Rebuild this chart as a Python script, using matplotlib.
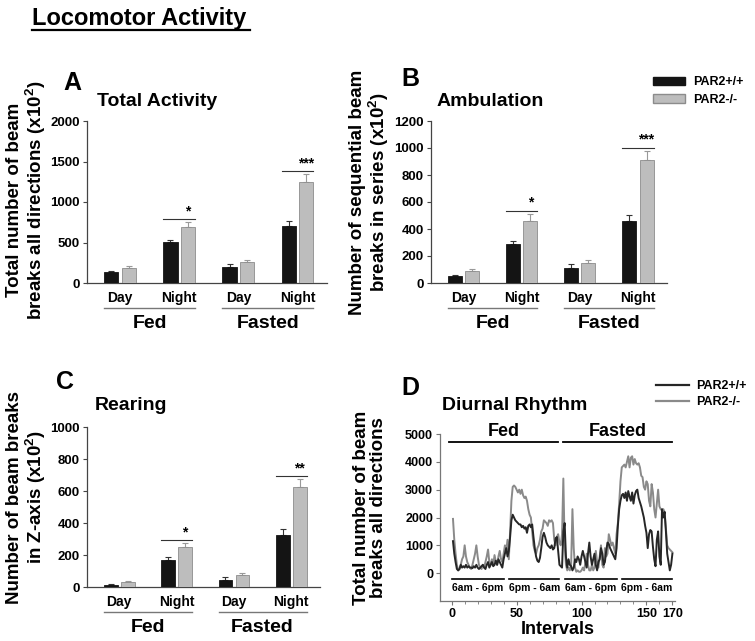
import numpy as np
import matplotlib.pyplot as plt
from matplotlib.lines import Line2D
from matplotlib.patches import Patch

plt.rcParams['font.family'] = ['Liberation Sans', 'DejaVu Sans']
plt.rcParams['font.weight'] = 'bold'
plt.rcParams['axes.labelweight'] = 'bold'
plt.rcParams['mathtext.fontset'] = 'custom'
plt.rcParams['mathtext.rm'] = 'Liberation Sans:bold'
plt.rcParams['mathtext.bf'] = 'Liberation Sans:bold'

# bar data (x10^2 beam breaks), order: Fed Day, Fed Night, Fasted Day, Fasted Night
periods = ['Day', 'Night', 'Day', 'Night']
conditions = ['Fed', 'Fasted']
genotypes = ['PAR2+/+', 'PAR2-/-']

total_wt = [130, 505, 197, 698]
total_wt_err = [15, 30, 37, 70]
total_ko = [185, 686, 263, 1248]
total_ko_err = [25, 65, 25, 95]
total_sig = ['*', '***']

amb_wt = [54, 291, 108, 461]
amb_wt_err = [8, 22, 30, 44]
amb_ko = [91, 461, 150, 909]
amb_ko_err = [15, 51, 20, 69]
amb_sig = ['*', '***']

rear_wt = [15, 171, 46, 323]
rear_wt_err = [4, 19, 14, 40]
rear_ko = [29, 250, 73, 625]
rear_ko_err = [6, 25, 15, 50]
rear_sig = ['*', '**']

# diurnal rhythm, one value per interval (1..170)
diurnal_wt = [
    1150, 700, 400, 150, 100, 150, 300, 200, 250, 200,
    300, 200, 250, 200, 200, 180, 250, 200, 300, 200,
    150, 200, 250, 300, 200, 150, 300, 400, 200, 300,
    400, 250, 300, 450, 300, 500, 400, 300, 200, 500,
    700, 900, 600, 800, 1300, 1900, 2100, 2000, 1900, 1850,
    1800, 1750, 1750, 1650, 1700, 1600, 1650, 1450, 1700, 1750,
    1650, 1750, 1300, 900, 600, 450, 400, 550, 900, 1300,
    1450, 1300, 1100, 1000, 950, 900, 1000, 850, 900, 1250,
    1300, 800, 300, 250, 200, 1500, 1800, 600, 200, 500,
    300, 250, 100, 200, 500, 400, 600, 500, 300, 600,
    800, 600, 400, 200, 700, 1100, 600, 300, 500, 700,
    300, 100, 400, 500, 900, 700, 300, 400, 800, 1100,
    1050, 900, 800, 700, 600, 500, 900, 1700, 2300, 2600,
    2800, 2850, 2700, 2900, 2600, 2950, 2750, 2600, 2900, 2500,
    2800, 2950, 3000, 2700, 2550, 2400, 2200, 2000, 1700, 1450,
    900, 1400, 1550, 1500, 950, 500, 250, 1200, 1500, 600,
    300, 2300, 2000, 2200, 1500, 700, 400, 100, 300, 700,
]
diurnal_ko = [
    1950, 1200, 700, 300, 100, 150, 300, 500, 600, 1000,
    600, 400, 300, 200, 150, 300, 500, 700, 1000, 600,
    300, 200, 150, 300, 200, 400, 600, 850, 400, 300,
    500, 300, 650, 400, 300, 600, 800, 500, 400, 700,
    1000, 800, 1200, 500, 1500, 2600, 3100, 3150, 3100, 3000,
    2900, 3000, 2850, 3000, 2800, 2700, 2750, 2600, 2300, 2100,
    2000, 1500, 1000, 800, 700, 900, 1000, 1200, 1500, 1600,
    1900, 1850, 1800, 1700, 1900, 1850, 1900, 1800, 1200, 1000,
    1300, 1400, 1100, 1000, 1400, 3400, 1000, 300, 100, 200,
    100, 300, 2300, 900, 200, 50, 100, 50, 50, 100,
    200, 100, 400, 700, 300, 100, 100, 300, 100, 200,
    800, 400, 200, 600, 1000, 300, 200, 900, 600, 700,
    1400, 1200, 1000, 1100, 900, 700, 1400, 1800, 2500, 3300,
    3800, 3850, 3900, 3800, 4000, 4200, 3800, 4150, 4200, 3900,
    4100, 3950, 3900, 3950, 3800, 3500, 3450, 3100, 3000, 3300,
    3200, 2600, 2400, 3200, 2900, 2300, 2000, 2500, 3000, 2400,
    2300, 2250, 2300, 2200, 1600, 1000, 900, 850, 800, 750,
]
intervals = np.arange(1, len(diurnal_wt) + 1)
phase_spans = [(-2, 82), (86, 170)]
clock_spans = [(0, 40), (44, 83), (87, 127), (131, 170)]
clock_labels = ['6am - 6pm', '6pm - 6am', '6am - 6pm', '6pm - 6am']

BLACK = '#141414'
GREY = '#bdbdbd'
GREY_EDGE = '#8c8c8c'

W, H = 755, 641
fig = plt.figure(figsize=(W / 100, H / 100), dpi=100)


def px_axes(left, top, right, bottom):
    return fig.add_axes([left / W, 1 - bottom / H, (right - left) / W, (bottom - top) / H])


def bar_panel(ax, wt, wt_err, ko, ko_err, sig, ymax, step, hpx):
    x = np.arange(len(periods))
    off, w = 0.148, 0.24
    ax.errorbar(x - off, wt, yerr=[np.zeros(len(wt)), wt_err], fmt='none',
                ecolor='#333333', elinewidth=0.8, capsize=2.5, capthick=0.8)
    ax.errorbar(x + off, ko, yerr=[np.zeros(len(ko)), ko_err], fmt='none',
                ecolor='#999999', elinewidth=0.8, capsize=2.5, capthick=0.8)
    ax.bar(x - off, wt, w, color=BLACK, edgecolor=BLACK, lw=0.6, zorder=3)
    ax.bar(x + off, ko, w, color=GREY, edgecolor=GREY_EDGE, lw=0.6, zorder=3)
    ax.set_xlim(-0.56, 3.5)
    ax.set_ylim(0, ymax)
    ax.set_yticks(np.arange(0, ymax + 1, step))
    ax.set_xticks([])
    for s in ['top', 'right']:
        ax.spines[s].set_visible(False)
    for s in ['left', 'bottom']:
        ax.spines[s].set_color('#444444')
        ax.spines[s].set_linewidth(0.9)
    ax.tick_params(axis='y', length=3, width=0.8, color='#444444', labelsize=9.5, pad=2)

    # significance bars over the night groups
    for i, s in zip([1, 3], sig):
        top = ko[i] + ko_err[i] + 0.02 * ymax
        ax.plot([i - off - w / 2, i + off + w / 2], [top, top], color='#333333', lw=0.8)
        ax.text(i + off, top + 0.005 * ymax, s, ha='center', va='bottom', fontsize=10)

    # period / condition labels under the axis
    for i, p in enumerate(periods):
        ax.annotate(p, xy=(i, 0), xycoords=('data', 'axes fraction'),
                    xytext=(0, -15), textcoords='offset pixels',
                    ha='center', va='center', fontsize=10)
    for k, c in enumerate(conditions):
        a, b = 2 * k, 2 * k + 1
        ax.plot([a - off - w / 2, b + off + w / 2], [-25 / hpx, -25 / hpx],
                transform=ax.get_xaxis_transform(), color='#777777', lw=1.0, clip_on=False)
        ax.annotate(c, xy=((a + b) / 2, 0), xycoords=('data', 'axes fraction'),
                    xytext=(0, -40), textcoords='offset pixels',
                    ha='center', va='center', fontsize=14)


def panel_text(letter, lx, ly, title, tx, ty):
    fig.text(lx / W, 1 - ly / H, letter, fontsize=18, ha='left', va='center')
    fig.text(tx / W, 1 - ty / H, title, fontsize=14, ha='left', va='center')


def ylabel(text, cx, cy):
    fig.text(cx / W, 1 - cy / H, text, rotation=90, ha='center', va='center',
             fontsize=13.5, linespacing=1.0, multialignment='center')


# title
fig.text(32 / W, 1 - 18 / H, 'Locomotor Activity', fontsize=17, ha='left', va='center')
fig.add_artist(Line2D([32 / W, 250 / W], [1 - 30 / H, 1 - 30 / H], color='black', lw=1.6))

# A
axA = px_axes(87, 121, 327, 283)
bar_panel(axA, total_wt, total_wt_err, total_ko, total_ko_err, total_sig, 2000, 500, 162)
panel_text('A', 63, 83, 'Total Activity', 97, 101)
ylabel('Total number of beam\nbreaks all directions (x10$^2$)', 27, 200)

# B
axB = px_axes(431, 121, 667, 283)
bar_panel(axB, amb_wt, amb_wt_err, amb_ko, amb_ko_err, amb_sig, 1200, 200, 162)
panel_text('B', 401, 79, 'Ambulation', 437, 101)
ylabel('Number of sequential beam\nbreaks in series (x10$^2$)', 370, 192)
fig.legend([Patch(facecolor=BLACK, edgecolor=BLACK), Patch(facecolor=GREY, edgecolor=GREY_EDGE)],
           genotypes, loc='upper left', bbox_to_anchor=(642 / W, 1 - 65 / H), frameon=False,
           fontsize=9, handlelength=2.5, handleheight=0.7, handletextpad=0.7, labelspacing=0.45)

# C
axC = px_axes(87, 427, 320, 587)
bar_panel(axC, rear_wt, rear_wt_err, rear_ko, rear_ko_err, rear_sig, 1000, 200, 160)
panel_text('C', 56, 382, 'Rearing', 95, 405)
ylabel('Number of beam breaks\nin Z-axis (x10$^2$)', 27, 497)

# D
axD = px_axes(440, 434, 675, 601)
axD.plot(intervals, diurnal_ko, color='#8a8a8a', lw=1.4)
axD.plot(intervals, diurnal_wt, color='#262626', lw=1.4)
axD.set_xlim(-9, 172)
axD.set_ylim(-1000, 5000)
axD.set_yticks(np.arange(0, 5001, 1000))
axD.set_xticks([0, 50, 100, 150, 170])
axD.set_xticks(np.arange(0, 171, 10), minor=True)
for s in ['top', 'right']:
    axD.spines[s].set_visible(False)
for s in ['left', 'bottom']:
    axD.spines[s].set_color('#777777')
    axD.spines[s].set_linewidth(0.9)
axD.tick_params(axis='both', length=3, width=0.8, color='#777777', labelsize=9, pad=2)
axD.tick_params(axis='x', which='minor', length=2, width=0.6, color='#777777')
axD.set_xlabel('Intervals', fontsize=13, fontweight='bold', labelpad=1)
for (a, b), name in zip(phase_spans, conditions):
    axD.plot([a, b], [4700, 4700], color='black', lw=1.3)
    axD.text((a + b) / 2, 4780, name, ha='center', va='bottom', fontsize=13)
for (a, b), lab in zip(clock_spans, clock_labels):
    axD.plot([a, b], [-200, -200], color='black', lw=1.2)
    axD.text((a + b) / 2, -520, lab, ha='center', va='center', fontsize=7.5)
panel_text('D', 401, 388, 'Diurnal Rhythm', 442, 405)
ylabel('Total number of beam\nbreaks all directions', 370, 508)
fig.legend([Line2D([], [], color='#262626', lw=1.6), Line2D([], [], color='#8a8a8a', lw=1.6)],
           genotypes, loc='upper left', bbox_to_anchor=(645 / W, 1 - 369 / H), frameon=False,
           fontsize=9, handlelength=2.6, handletextpad=0.6, labelspacing=0.3)

fig.savefig('out.png', dpi=100)
